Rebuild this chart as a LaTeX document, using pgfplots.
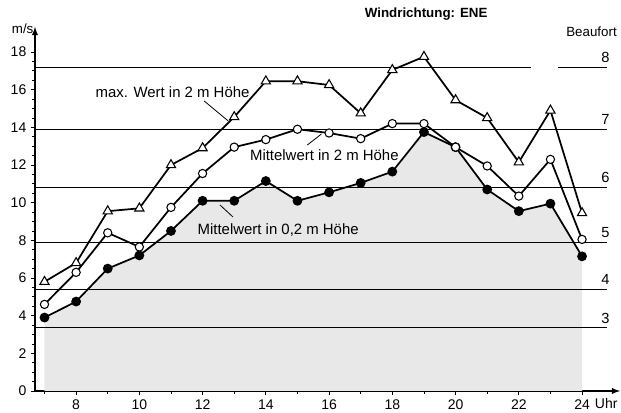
\documentclass[border=0pt]{standalone}
\usepackage{pgfplots}
\pgfplotsset{compat=1.18}
\usepackage{fontspec}
\setmainfont{Liberation Sans}
\begin{document}
\pgfplotstableread{
h max mean low
7  5.8  4.6  3.9
8  6.8  6.3  4.75
9  9.55 8.4  6.5
10 9.7  7.65 7.2
11 12.0 9.75 8.5
12 12.9 11.55 10.1
13 14.55 12.95 10.1
14 16.45 13.35 11.15
15 16.45 13.9 10.1
16 16.25 13.7 10.55
17 14.75 13.4 11.05
18 17.05 14.2 11.65
19 17.75 14.2 13.75
20 15.45 12.95 12.95
21 14.5 11.95 10.7
22 12.15 10.35 9.55
23 14.9 12.3 9.95
24 9.45 8.05 7.15
}\data
\begin{tikzpicture}[font=\fontsize{10}{12}\selectfont]
\begin{axis}[
  scale only axis, width=438.75pt, height=273pt,
  xmin=6.7, xmax=25.2, ymin=0, ymax=19.33,
  axis lines=left,
  axis line style={line width=1.1pt, -latex},
  xtick={8,10,...,24}, ytick={0,2,...,18},
  minor xtick={7,9,...,23}, minor y tick num=3,
  tick align=outside, tick style={black, line width=0.6pt},
  major tick length=3pt, minor tick length=2pt,
  /pgf/number format/assume math mode=true,
  ticklabel style={font=\fontsize{10.5}{12}\selectfont},
  clip=false,
]
% stippled area
\addplot[draw=none, fill=black!9] table[x=h,y=low]{\data} \closedcycle;
% Beaufort lines
\addplot[line width=0.7pt] coordinates {(6.7,17.2) (22.4,17.2)};
\addplot[line width=0.7pt] coordinates {(23.25,17.2) (24.8,17.2)};
\addplot[line width=0.7pt] coordinates {(6.7,13.9) (24.8,13.9)};
\addplot[line width=0.7pt] coordinates {(6.7,10.8) (24.8,10.8)};
\addplot[line width=0.7pt] coordinates {(6.7,7.9) (24.8,7.9)};
\addplot[line width=0.7pt] coordinates {(6.7,5.4) (24.8,5.4)};
\addplot[line width=0.7pt] coordinates {(6.7,3.35) (24.8,3.35)};
% series
\addplot[line width=1.3pt, mark=*, mark size=3pt, mark options={fill=black}] table[x=h,y=low]{\data};
\addplot[line width=1.3pt, mark=*, mark size=3.1pt, mark options={fill=white, line width=0.8pt}] table[x=h,y=mean]{\data};
\addplot[line width=1.3pt, mark=triangle*, mark size=4pt, mark options={fill=white, line width=0.8pt}] table[x=h,y=max]{\data};
% Beaufort labels
\node[anchor=south, font=\fontsize{11}{12}\selectfont] at (axis cs:24.74,17.2) {8};
\node[anchor=south, font=\fontsize{11}{12}\selectfont] at (axis cs:24.74,13.9) {7};
\node[anchor=south, font=\fontsize{11}{12}\selectfont] at (axis cs:24.74,10.8) {6};
\node[anchor=south, font=\fontsize{11}{12}\selectfont] at (axis cs:24.74,7.9) {5};
\node[anchor=south, font=\fontsize{11}{12}\selectfont] at (axis cs:24.74,5.4) {4};
\node[anchor=south, font=\fontsize{11}{12}\selectfont] at (axis cs:24.74,3.35) {3};
\node at (axis cs:24.3,19.07) {Beaufort};
\node[font=\fontsize{10}{12}\selectfont\bfseries] at (axis cs:19.07,20.0) {Windrichtung: ENE};
\node[anchor=east, inner sep=1pt] at (axis cs:6.7,19.22) {m/s};
\node[anchor=north west, inner sep=0pt, font=\fontsize{10.5}{12}\selectfont] at (axis cs:24.4,-0.4) {Uhr};
% annotations
\begin{scope}[font=\fontsize{11.2}{13}\selectfont]
\node[inner sep=1pt] at (axis cs:11.05,15.88) {max. Wert in 2 m Höhe};
\draw[line width=0.6pt] (axis cs:12.05,15.4) -- (axis cs:12.81,14.34);
\node[inner sep=1pt] at (axis cs:15.85,12.53) {Mittelwert in 2 m Höhe};
\draw[line width=0.6pt] (axis cs:15.31,13.06) -- (axis cs:15.76,13.65);
\node[inner sep=1pt] at (axis cs:14.39,8.55) {Mittelwert in 0,2 m Höhe};
\draw[line width=0.6pt] (axis cs:12.96,9.24) -- (axis cs:12.55,9.88);
\end{scope}
\end{axis}
\pgfresetboundingbox
\path[use as bounding box] ([xshift=-26.25pt,yshift=-16.5pt]current axis.south west) rectangle ([xshift=0.75pt,yshift=20.25pt]current axis.north east);
\end{tikzpicture}
\end{document}
